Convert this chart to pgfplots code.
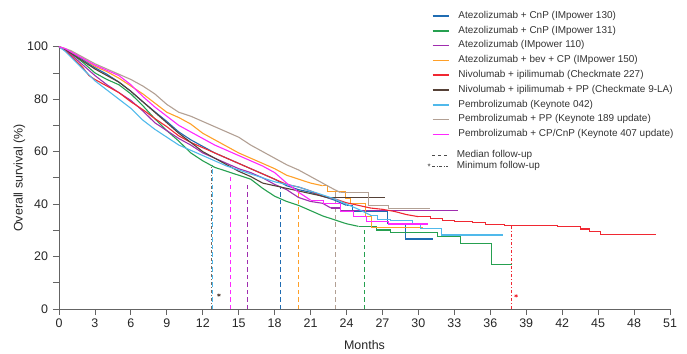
\documentclass[border=0pt]{standalone}
\usepackage{pgfplots}
\pgfplotsset{compat=1.18}
\usepackage{fontspec}
\setmainfont{Liberation Sans}
\definecolor{cBlue}{RGB}{31,108,178}
\definecolor{cGreen}{RGB}{38,160,80}
\definecolor{cPurple}{RGB}{160,45,175}
\definecolor{cOrange}{RGB}{255,160,40}
\definecolor{cRed}{RGB}{240,40,50}
\definecolor{cBrown}{RGB}{85,65,55}
\definecolor{cLBlue}{RGB}{80,185,235}
\definecolor{cTan}{RGB}{178,160,148}
\definecolor{cMag}{RGB}{255,40,255}
\definecolor{cAx}{RGB}{100,100,100}
\begin{document}
\begin{tikzpicture}
\begin{axis}[
  name=main,
  scale only axis, width=611bp, height=262.3bp,
  xmin=0, xmax=51, ymin=0, ymax=100,
  axis x line*=bottom, axis y line*=left,
  axis line style={draw=cAx, line width=0.8bp},
  xtick={0,3,...,51}, ytick={0,20,...,100}, minor ytick={10,30,50,70,90},
  tick align=outside, major tick length=6bp, minor tick length=6bp,
  tick style={draw=cAx, line width=0.8bp},
  /pgf/number format/assume math mode=true,
  ticklabel style={font=\fontsize{12.5}{14}\selectfont, text=black!85},
  yticklabel style={xshift=-1.5bp},
  xlabel={Months}, ylabel={Overall survival (\%)},
  every axis x label/.style={at={(axis description cs:0.5,-0.137)}, anchor=center, font=\fontsize{12.5}{14}\selectfont, text=black!85},
  every axis y label/.style={at={(axis description cs:-0.065,0.5)}, anchor=center, rotate=90, font=\fontsize{12.5}{14}\selectfont, text=black!85},
  legend style={at={(axis description cs:0.61,1.1352)}, anchor=north west, draw=none, fill=none,
    inner sep=0pt, outer sep=0pt, row sep=5.3bp, column sep=8.5bp,
    font=\fontsize{10}{11}\selectfont, text=black!80,
    nodes={inner sep=0pt, text height=7bp, text depth=2.5bp}},
  legend cell align=left,
  legend image code/.code={\draw[#1, line width=1.6bp] (0bp,0bp) -- (16.6bp,0bp);},
  every axis plot/.append style={line width=1.1bp},
]
% median / minimum follow-up lines
\addplot[cLBlue, dash pattern=on 4.5bp off 3bp, forget plot] coordinates {(12.85,0) (12.85,55)};
\addplot[cBrown!80, dash pattern=on 3bp off 2bp on 1bp off 2bp, forget plot] coordinates {(12.7,0) (12.7,55)};
\addplot[cMag, dash pattern=on 4.5bp off 3bp, forget plot] coordinates {(14.3,0) (14.3,50.4)};
\addplot[cPurple, dash pattern=on 4.5bp off 3bp, forget plot] coordinates {(15.7,0) (15.7,47.2)};
\addplot[cBlue, dash pattern=on 4.5bp off 3bp, forget plot] coordinates {(18.5,0) (18.5,46.3)};
\addplot[cOrange, dash pattern=on 4.5bp off 3bp, forget plot] coordinates {(20.0,0) (20.0,45)};
\addplot[cTan, dash pattern=on 4.5bp off 3bp, forget plot] coordinates {(23.1,0) (23.1,44.7)};
\addplot[cGreen, dash pattern=on 4.5bp off 3bp, forget plot] coordinates {(25.5,0) (25.5,30)};
\addplot[cRed, dash pattern=on 3bp off 2bp on 1bp off 2bp, forget plot] coordinates {(37.8,0) (37.8,31.9)};
\addplot[only marks, mark=asterisk, mark size=1.8bp, cBrown, forget plot, line width=0.6bp] coordinates {(13.35,5.3)};
\addplot[only marks, mark=asterisk, mark size=1.8bp, cRed, forget plot, line width=0.6bp] coordinates {(38.15,5.0)};

% Atezolizumab + CnP (IMpower 130)
\addplot[cBlue] coordinates {(0,100)(0.5,99)(1,98)(2,95)(3,92)(4,89.5)(5,86.5)(6,83)(7,79)(8,75.2)(9,71.5)(10,67.5)(11,64.5)(12,62)(13,59.5)(14,57.5)(15,55.5)(16,53.5)(17,51.5)(18,49.5)(19,47)(20,45.5)(21,44.5)(22,43)(23,41.5)(24,39.5)};
\addlegendentry{Atezolizumab + CnP (IMpower 130)}
\addplot[cBlue, const plot, forget plot] coordinates {(24,39.5)(24.5,37.1)(27.4,32.6)(28.9,26.7)(31.2,26.7)};
% Atezolizumab + CnP (IMpower 131)
\addplot[cGreen] coordinates {(0,100)(0.5,99)(1,97.5)(2,94)(3,90)(4,87.5)(5,85.5)(6,82)(7,77.5)(8,72.5)(9,68)(10,64)(11,59.5)(12,56.5)(13,54)(14,52.5)(15,51)(16,49.5)(17,46)(18,43)(19,41)(20,39.5)(21,37.5)(22,35.5)(23,34)(24,32.5)(25,31.5)};
\addlegendentry{Atezolizumab + CnP (IMpower 131)}
\addplot[cGreen, const plot, forget plot] coordinates {(25,31.5)(26.5,30.1)(27.7,29.1)(31.6,27.8)(33.5,25)(36.1,16.8)(37.8,16.8)};
% Atezolizumab (IMpower 110)
\addplot[cPurple] coordinates {(0,100)(0.5,98.7)(1,97)(2,93)(3,89)(4,85.5)(5,82.5)(6,79.5)(7,75.5)(8,71)(9,68)(10,65)(11,62.5)(12,59.5)(13,57.5)(14,55.5)(15,53.5)(16,52)(17,50)(18,47.5)(19,45.5)(20,42.5)(21,41)(22,40.3)(22.7,38.5)};
\addlegendentry{Atezolizumab (IMpower 110)}
\addplot[cPurple, const plot, forget plot] coordinates {(22.7,38.5)(23.5,37.5)(33.3,37.5)};
% Atezolizumab + bev + CP (IMpower 150)
\addplot[cOrange] coordinates {(0,100)(0.5,99.2)(1,98)(2,95.5)(3,92.5)(4,90.5)(5,88)(6,85)(7,82)(8,78.5)(9,75)(10,73)(11,70.5)(12,67)(13,64.5)(14,62)(15,59.5)(16,57.5)(17,55.5)(18,53.5)(19,51)(20,49.5)(21,48)(22,47)};
\addlegendentry{Atezolizumab + bev + CP (IMpower 150)}
\addplot[cOrange, const plot, forget plot] coordinates {(22,47)(22.4,44.7)(23.9,42.2)(24.3,40.3)(25.6,35.2)(26.1,31)(30.4,31)};
% Nivolumab + ipilimumab (Checkmate 227)
\addplot[cRed] coordinates {(0,100)(0.5,98.5)(1,96.5)(2,92)(2.5,89)(3,87.5)(4,85)(5,82.5)(6,79)(7,76)(8,72.6)(9,69.5)(10,66)(11,63.5)(12,61.5)(13,59.5)(14,57.5)(15,55.5)(16,53.5)(17,51.5)(18,49.5)(19,47.5)(20,46.5)(21,45)(22,43)(23,42)(24,40.5)(25,39.5)(26,38.5)(27,38)(28,37.2)(29,36)(30,35.2)};
\addlegendentry{Nivolumab + ipilimumab (Checkmate 227)}
\addplot[cRed, const plot, forget plot] coordinates {(30,35.2)(31,34.5)(32,33.7)(33,33.4)(34.5,32.9)(35.6,32.3)(37.2,32)(41.6,31.4)(43.5,30.5)(44.3,29.5)(45.2,28.4)(49.8,28.4)};
% Nivolumab + ipilimumab + PP (Checkmate 9-LA)
\addplot[cBrown] coordinates {(0,100)(0.5,99)(1,97.5)(2,94.5)(3,91.5)(4,89)(5,86.5)(6,83)(7,79)(8,75)(9,71)(10,67)(11,63.5)(12,60)(13,57.5)(14,55)(15,52.5)(16,50.5)(17,48)(18,47)(19,46)(20,45)(21,44)(22,43)(22.5,42.4)};
\addlegendentry{Nivolumab + ipilimumab + PP (Checkmate 9-LA)}
\addplot[cBrown, const plot, forget plot] coordinates {(22.5,42.4)(27.2,42.4)};
% Pembrolizumab (Keynote 042)
\addplot[cLBlue] coordinates {(0,100)(0.5,98.3)(1,96)(2,91.5)(3,87)(4,83.5)(5,80)(6,76.5)(7,72)(8,68.5)(9,65.5)(10,62.5)(11,60.5)(12,58.5)(13,56.5)(14,54.5)(15,53)(16,51.5)(17,50)(18,48.5)(19,47.5)(20,46.5)(21,45)(22,43.5)(23,42)(24,40)(25,38)(26,35.8)};
\addlegendentry{Pembrolizumab (Keynote 042)}
\addplot[cLBlue, const plot, forget plot] coordinates {(26,35.8)(26.6,34.2)(27.7,33.9)(29.5,32.4)(30.2,30.7)(31.9,28.2)(37.1,28.2)};
% Pembrolizumab + PP (Keynote 189 update)
\addplot[cTan] coordinates {(0,100)(0.5,99.3)(1,98.5)(2,96)(3,93.5)(4,91.5)(5,89.5)(6,87.5)(7,85)(8,82)(9,78)(10,75)(11,73.5)(12,71.5)(13,69.5)(14,67.5)(15,65.5)(16,62.5)(17,60)(18,57.5)(19,55)(20,53)(21,50.5)(22,48)(23,45.5)(23.5,44.4)};
\addlegendentry{Pembrolizumab + PP (Keynote 189 update)}
\addplot[cTan, const plot, forget plot] coordinates {(23.5,44.4)(25.8,39.6)(27.5,38.4)(31.0,38.4)};
% Pembrolizumab + CP/CnP (Keynote 407 update)
\addplot[cMag] coordinates {(0,100)(0.5,99.3)(1,98)(2,95.5)(3,93)(4,91)(5,89)(6,85.5)(7,81)(8,77)(9,73.5)(10,70)(11,67.5)(12,65)(13,62.5)(14,60.5)(15,58.5)(16,56.5)(17,54.5)(18,52)(19,48)(20,44.5)(21,41.5)};
\addlegendentry{Pembrolizumab + CP/CnP (Keynote 407 update)}
\addplot[cMag, const plot, forget plot] coordinates {(21,41.5)(22.1,40.3)(23.5,37)(24.6,35.2)(25.7,33.3)(27.5,32.4)(30.8,32.4)};
\end{axis}
\begin{axis}[
  at={(main.south west)}, anchor=south west,
  scale only axis, width=611bp, height=262.3bp,
  xmin=0, xmax=51, ymin=0, ymax=100, hide axis,
  legend style={at={(axis description cs:0.61,0.6041)}, anchor=north west, draw=none, fill=none,
    inner sep=0pt, outer sep=0pt, row sep=1.5bp, column sep=8.5bp,
    font=\fontsize{10}{11}\selectfont, text=black!80,
    nodes={inner sep=0pt, text height=7bp, text depth=2.5bp}},
  legend cell align=left,
]
\addplot[draw=none, forget plot] coordinates {(0,0)};
\addlegendimage{legend image code/.code={\draw[black!70, line width=1bp, dash pattern=on 3bp off 3bp] (1bp,0bp) -- (16.6bp,0bp);}}
\addlegendentry{Median follow-up}
\addlegendimage{legend image code/.code={\draw[black!70, line width=1bp, dash pattern=on 3bp off 1.5bp on 1bp off 1.5bp] (1bp,0bp) -- (16.6bp,0bp); \node[overlay, inner sep=0pt, font=\fontsize{8}{8}\selectfont, text=black!80] at (-3.5bp,-1bp) {*};}}
\addlegendentry{Minimum follow-up}
\end{axis}
\pgfresetboundingbox
\path[use as bounding box] (main.south west) ++(-59bp,-45bp) rectangle ++(687bp,354bp);
\end{tikzpicture}
\end{document}
